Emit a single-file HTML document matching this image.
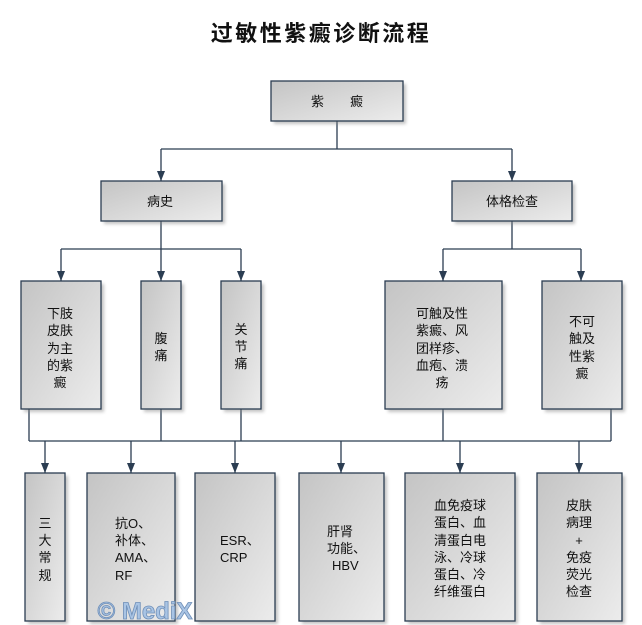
<!DOCTYPE html>
<html><head><meta charset="utf-8"><style>
html,body{margin:0;padding:0;background:#fff;}
svg{display:block;}
text{font-family:"Liberation Sans","Noto Sans CJK SC",sans-serif;font-size:13px;fill:#111;text-anchor:middle;}
</style></head><body>
<svg width="642" height="625" viewBox="0 0 642 625" xmlns="http://www.w3.org/2000/svg">
<defs>
<linearGradient id="g" x1="0" y1="0" x2="1" y2="1">
<stop offset="0" stop-color="#c4c4c4"/><stop offset="1" stop-color="#ececec"/>
</linearGradient>
<filter id="s" x="-20%" y="-20%" width="150%" height="150%"><feGaussianBlur stdDeviation="1.5"/></filter>
<path id="ah" d="M-4,-10 L4,-10 L0,0 Z" fill="#2b3d52"/>
</defs>
<text x="321" y="41" style="font-size:22px;font-weight:bold;letter-spacing:2.5px;font-family:'Noto Sans CJK SC',sans-serif">过敏性紫癜诊断流程</text>

<g fill="none" stroke="#2b3d52" stroke-width="1.3">
<path d="M337 121V149M161 149H512"/>
<path d="M161 149V181M512 149V181"/>
<path d="M161 221V249M61 249H241M512 221V249M443 249H581"/>
<path d="M61 249V281M161 249V281M241 249V281M443 249V281M581 249V281"/>
<path d="M29 409V441M161 409V441M241 409V441M443 409V441M611 409V441M29 441H611"/>
<path d="M45 441V473M131 441V473M235 441V473M341 441V473M460 441V473M579 441V473"/>
</g>
<use href="#ah" x="161" y="181"/><use href="#ah" x="512" y="181"/>
<use href="#ah" x="61" y="281"/><use href="#ah" x="161" y="281"/><use href="#ah" x="241" y="281"/>
<use href="#ah" x="443" y="281"/><use href="#ah" x="581" y="281"/>
<use href="#ah" x="45" y="473"/><use href="#ah" x="131" y="473"/><use href="#ah" x="235" y="473"/>
<use href="#ah" x="341" y="473"/><use href="#ah" x="460" y="473"/><use href="#ah" x="579" y="473"/>

<g>
<g fill="#888" opacity="0.5" filter="url(#s)">
<rect x="274" y="84" width="132" height="40"/>
<rect x="104" y="184" width="121" height="40"/>
<rect x="455" y="184" width="120" height="40"/>
<rect x="24" y="284" width="80" height="128"/>
<rect x="144" y="284" width="40" height="128"/>
<rect x="224" y="284" width="40" height="128"/>
<rect x="388" y="284" width="117" height="128"/>
<rect x="545" y="284" width="80" height="128"/>
<rect x="28" y="476" width="40" height="148"/>
<rect x="90" y="476" width="88" height="148"/>
<rect x="198" y="476" width="80" height="148"/>
<rect x="302" y="476" width="85" height="148"/>
<rect x="408" y="476" width="110" height="148"/>
<rect x="540" y="476" width="85" height="148"/>
</g>
<g fill="url(#g)" stroke="#2b3d52" stroke-width="1.3">
<rect x="271" y="81" width="132" height="40"/>
<rect x="101" y="181" width="121" height="40"/>
<rect x="452" y="181" width="120" height="40"/>
<rect x="21" y="281" width="80" height="128"/>
<rect x="141" y="281" width="40" height="128"/>
<rect x="221" y="281" width="40" height="128"/>
<rect x="385" y="281" width="117" height="128"/>
<rect x="542" y="281" width="80" height="128"/>
<rect x="25" y="473" width="40" height="148"/>
<rect x="87" y="473" width="88" height="148"/>
<rect x="195" y="473" width="80" height="148"/>
<rect x="299" y="473" width="85" height="148"/>
<rect x="405" y="473" width="110" height="148"/>
<rect x="537" y="473" width="85" height="148"/>
</g>
</g>

<text x="337" y="106">紫　　癜</text>
<text x="160" y="206">病史</text>
<text x="512" y="206">体格检查</text>

<g>
<text x="60" y="318">下肢</text><text x="60" y="335">皮肤</text><text x="60" y="353">为主</text><text x="60" y="370">的紫</text><text x="60" y="387">癜</text>
<text x="161" y="343">腹</text><text x="161" y="360">痛</text>
<text x="241" y="334">关</text><text x="241" y="351">节</text><text x="241" y="368">痛</text>
<text x="442" y="318">可触及性</text><text x="442" y="335">紫癜、风</text><text x="442" y="353">团样疹、</text><text x="442" y="370">血疱、溃</text><text x="442" y="387">疡</text>
<text x="582" y="326">不可</text><text x="582" y="343">触及</text><text x="582" y="361">性紫</text><text x="582" y="378">癜</text>

<text x="45" y="528">三</text><text x="45" y="545">大</text><text x="45" y="562">常</text><text x="45" y="580">规</text>
<text x="115" y="528" style="text-anchor:start">抗O、</text>
<text x="115" y="545" style="text-anchor:start">补体、</text>
<text x="115" y="562" style="text-anchor:start">AMA、</text>
<text x="115" y="580" style="text-anchor:start">RF</text>
<text x="220" y="545" style="text-anchor:start">ESR、</text><text x="220" y="562" style="text-anchor:start">CRP</text>
<text x="327" y="536" style="text-anchor:start">肝肾</text><text x="327" y="553" style="text-anchor:start">功能、</text><text x="332" y="570" style="text-anchor:start">HBV</text>
<text x="460" y="510">血免疫球</text><text x="460" y="527">蛋白、血</text><text x="460" y="545">清蛋白电</text><text x="460" y="562">泳、冷球</text><text x="460" y="579">蛋白、冷</text><text x="460" y="596">纤维蛋白</text>
<text x="579" y="510">皮肤</text><text x="579" y="527">病理</text><text x="579" y="545">+</text><text x="579" y="562">免疫</text><text x="579" y="579">荧光</text><text x="579" y="596">检查</text>
</g>
<text x="145" y="619" style="font-size:24px;font-weight:bold;fill:#a9c4e4;stroke:#6f8fb8;stroke-width:0.8">© MediX</text>
</svg>
</body></html>
